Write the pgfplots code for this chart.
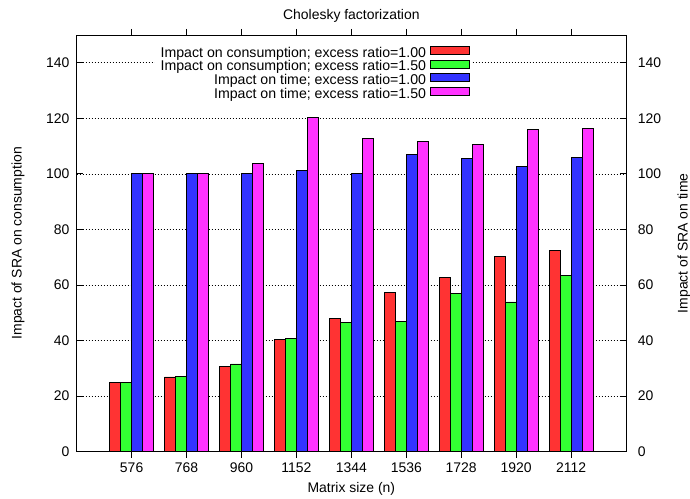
\documentclass[border=0pt]{standalone}
\usepackage{fontspec}
\setmainfont{Liberation Sans}
\usepackage{pgfplots}
\pgfplotsset{compat=1.18}
\usepackage{pgfplotstable}
\definecolor{cR}{RGB}{255,51,51}
\definecolor{cG}{RGB}{51,255,51}
\definecolor{cB}{RGB}{51,51,255}
\definecolor{cM}{RGB}{255,51,255}
\newcommand{\chfont}{\fontsize{14}{16}\selectfont}
\newcommand{\lgfont}{\fontsize{14.2}{14.3}\selectfont}
\pgfplotstableread{
idx size consR consG timeB timeM
0 576 25.0 25.0 100 100
1 768 26.9 27.2 100 100
2 960 30.7 31.6 100 103.6
3 1152 40.4 40.8 101.4 120.4
4 1344 47.9 46.4 100 112.8
5 1536 57.4 46.9 107.1 111.7
6 1728 62.6 56.9 105.4 110.6
7 1920 70.4 53.9 102.7 116.0
8 2112 72.4 63.5 105.8 116.5
}\datatable
\begin{document}
\begin{tikzpicture}
\useasboundingbox (-76.7bp,-47.3bp) rectangle (613.3bp,451.7bp);
\begin{axis}[
  scale only axis, width=549.3bp, height=416.7bp,
  xmin=-1, xmax=9, ymin=0, ymax=150,
  xtick={0,...,8},
  xticklabels={576,768,960,1152,1344,1536,1728,1920,2112},
  ytick={0,20,...,140},
  tick align=inside, major tick length=6bp,
  ymajorgrids,
  grid style={black, line width=0.7bp, dash pattern=on 1bp off 2bp},
  axis line style={line width=0.8bp},
  tick style={black, line width=0.8bp},
  /pgf/number format/assume math mode=true,
  every tick label/.append style={font=\chfont},
  yticklabel style={xshift=-3.8bp},
  xticklabel style={yshift=-2bp},
  label style={font=\chfont},
  title style={font=\chfont, at={(axis description cs:0.5,1.0504)}, anchor=center, yshift=-8bp},
  title={Cholesky factorization},
  xlabel={Matrix size (n)},
  xlabel style={at={(axis description cs:0.5,-0.0895)}, anchor=center},
  ylabel={Impact of SRA on consumption},
  ylabel style={at={(axis description cs:-0.1069,0.5)}, anchor=center},
  ybar, bar width=0.2,
  legend style={at={(axis description cs:0.7197,0.9786)}, anchor=north east,
    fill=white, draw=none, inner sep=2bp, row sep=-2bp, font=\lgfont,
    nodes={inner xsep=4bp, inner ysep=0bp, text height=10bp, text depth=4.3bp}},
  legend cell align=right, legend plot pos=right,
  legend image code/.code={\draw[#1, line width=0.8bp] (0bp,0bp) rectangle (39bp,8bp);},
]
\addplot[fill=cR, draw=black, line width=0.8bp, bar shift=-0.3] table[x=idx,y=consR]{\datatable};
\addlegendentry{Impact on consumption; excess ratio=1.00}
\addplot[fill=cG, draw=black, line width=0.8bp, bar shift=-0.1] table[x=idx,y=consG]{\datatable};
\addlegendentry{Impact on consumption; excess ratio=1.50}
\addplot[fill=cB, draw=black, line width=0.8bp, bar shift=0.1] table[x=idx,y=timeB]{\datatable};
\addlegendentry{Impact on time; excess ratio=1.00}
\addplot[fill=cM, draw=black, line width=0.8bp, bar shift=0.3] table[x=idx,y=timeM]{\datatable};
\addlegendentry{Impact on time; excess ratio=1.50}
\end{axis}
\begin{axis}[
  scale only axis, width=549.3bp, height=416.7bp,
  xmin=-1, xmax=9, ymin=0, ymax=150,
  hide x axis,
  ytick={0,20,...,140},
  ytick pos=right, yticklabel pos=right,
  tick align=inside, major tick length=6bp,
  axis line style={line width=0.8bp},
  tick style={black, line width=0.8bp},
  /pgf/number format/assume math mode=true,
  every tick label/.append style={font=\chfont},
  yticklabel style={xshift=8.4bp},
  label style={font=\chfont},
  ylabel={Impact of SRA on time},
  ylabel style={at={(axis description cs:1.1056,0.5)}, anchor=center},
]
\end{axis}
\end{tikzpicture}
\end{document}
